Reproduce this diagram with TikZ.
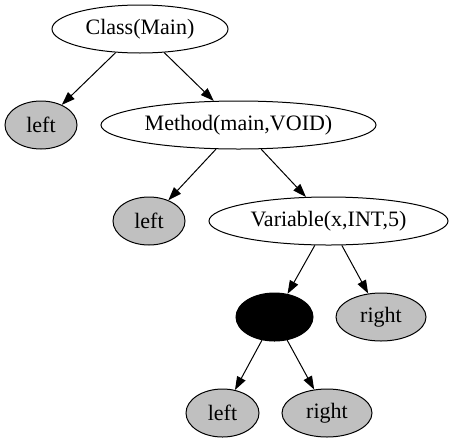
\documentclass[tikz,border=0pt]{standalone}
\usepackage{fontspec}
\setmainfont{Liberation Serif}
\usetikzlibrary{shapes.geometric,arrows.meta}
\definecolor{gvgray}{RGB}{192,192,192}
\begin{document}
\begin{tikzpicture}[x=0.75pt,y=-0.75pt,
  nd/.style={ellipse,draw,line width=0.75pt,inner sep=0pt,minimum height=36pt,font=\fontsize{16.5}{19}\selectfont},
  leaf/.style={nd,fill=gvgray},
  edge/.style={line width=0.75pt,-{Triangle[length=10pt,width=7pt]}}]
\useasboundingbox (0,0) rectangle (452,443);
\node[nd,minimum width=132pt] (cls) at (140,29) {Class(Main)};
\node[leaf,minimum width=54pt] (l1) at (41,125) {left};
\node[nd,minimum width=206.25pt] (meth) at (238.5,125) {Method(main,VOID)};
\node[leaf,minimum width=54pt] (l2) at (149,221) {left};
\node[nd,minimum width=179.25pt] (var) at (328.5,221) {Variable(x,INT,5)};
\node[nd,fill=black,minimum width=57.75pt] (blk) at (274.5,317) {};
\node[leaf,minimum width=67.5pt] (r1) at (381,317) {right};
\node[leaf,minimum width=54.75pt] (l3) at (222.5,413) {left};
\node[leaf,minimum width=67.5pt] (r2) at (327,413) {right};
\draw[edge] (cls) -- (l1);
\draw[edge] (cls) -- (meth);
\draw[edge] (meth) -- (l2);
\draw[edge] (meth) -- (var);
\draw[edge] (var) -- (blk);
\draw[edge] (var) -- (r1);
\draw[edge] (blk) -- (l3);
\draw[edge] (blk) -- (r2);
\end{tikzpicture}
\end{document}
